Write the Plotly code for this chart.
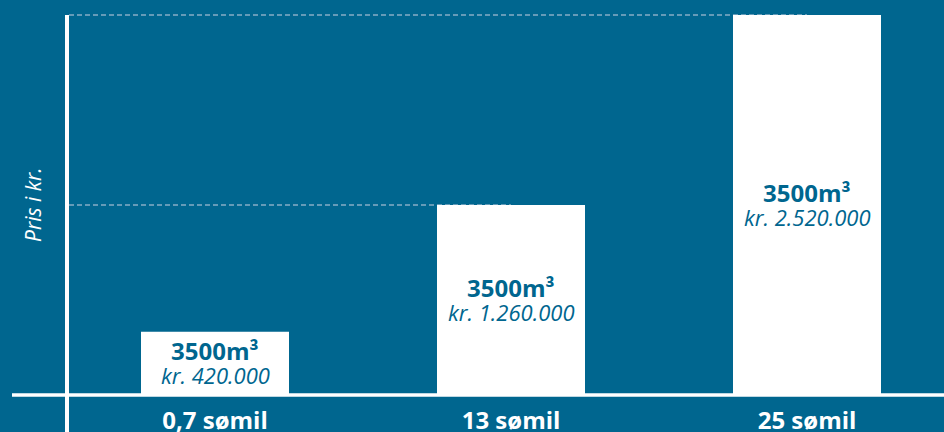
import plotly.graph_objects as go

categories = ["0,7 sømil", "13 sømil", "25 sømil"]
volumes = ["3500m³", "3500m³", "3500m³"]
prices = [420000, 1260000, 2520000]
price_labels = ["kr. 420.000", "kr. 1.260.000", "kr. 2.520.000"]
y_title = "Pris i kr."

BG = "#00668f"
DASH = "#86adc6"

W, H = 944, 432
B = 32
plot_h = H - B
# y-range chosen so that 0 sits at pixel 395 and the max value at pixel 15
per_px = max(prices) / (395 - 15)
y_top = max(prices) + 15 * per_px
y_bot = -(plot_h - 395) * per_px
# x-range: 296 px per category, first category centred at pixel 215
x_r0 = -215 / 296
x_r1 = x_r0 + W / 296

fig = go.Figure(
    go.Bar(
        x=categories,
        y=prices,
        width=0.5,
        marker=dict(color="white", line=dict(width=0)),
        hoverinfo="skip",
    )
)

annotations = []
for cat, v, vol, p in zip(categories, prices, volumes, price_labels):
    annotations.append(dict(
        text=f"<b>{vol}</b>", x=cat, y=v / 2, xref="x", yref="y",
        showarrow=False, yshift=13, xanchor="center", yanchor="middle",
        font=dict(family="Open Sans", size=24, color=BG), borderpad=0,
    ))
    annotations.append(dict(
        text=f"<i>{p}</i>", x=cat, y=v / 2, xref="x", yref="y",
        showarrow=False, yshift=-12, xanchor="center", yanchor="middle",
        font=dict(family="Open Sans", size=22, color=BG), borderpad=0,
    ))
annotations.append(dict(
    text=f"<i>{y_title}</i>", xref="paper", yref="paper",
    x=33 / W, y=(plot_h - 205) / plot_h, textangle=-90,
    showarrow=False, font=dict(family="Open Sans", size=21, color="white"),
    xanchor="center", yanchor="middle",
))

shapes = []
# dashed guide lines from y axis to bar tops (only the two taller bars)
for i, v in enumerate(prices):
    if i == 0:
        continue
    shapes.append(
        dict(
            type="line", xref="x", yref="y",
            x0=x_r0 + 69 / 296, x1=i, y0=v, y1=v,
            line=dict(color=DASH, width=1.3, dash="5px,3px"),
            layer="below",
        )
    )
# baseline
shapes.append(
    dict(type="line", xref="paper", yref="y", x0=12 / W, x1=1, y0=0, y1=0,
         line=dict(color="white", width=3.5), layer="above")
)
# vertical axis
shapes.append(
    dict(type="line", xref="paper", yref="paper", x0=67 / W, x1=67 / W,
         y0=-0.2, y1=(plot_h - 15) / plot_h,
         line=dict(color="white", width=4), layer="above")
)

fig.update_layout(
    width=W, height=H,
    margin=dict(l=0, r=0, t=0, b=B, autoexpand=False),
    paper_bgcolor=BG, plot_bgcolor=BG,
    showlegend=False,
    shapes=shapes,
    annotations=annotations,
    xaxis=dict(
        range=[x_r0, x_r1], showgrid=False, zeroline=False, showline=False,
        automargin=False,
        ticks="", tickfont=dict(family="Open Sans", size=24, color="white"),
        ticklabelstandoff=4,
        tickprefix="<b>", ticksuffix="</b>",
    ),
    yaxis=dict(
        range=[y_bot, y_top], showgrid=False, zeroline=False, showline=False,
        automargin=False,
        showticklabels=False, ticks="",
    ),
)

fig.write_html(
    "out.html",
    config={"displayModeBar": False},
    post_script="document.body.style.margin='0';document.body.style.background='" + BG + "';",
)
